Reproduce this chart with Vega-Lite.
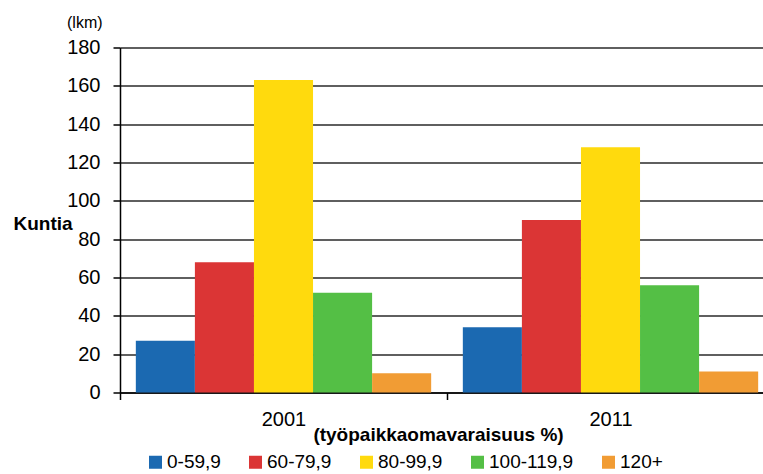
{
  "$schema": "https://vega.github.io/schema/vega-lite/v6.json",
  "width": 643,
  "height": 345,
  "autosize": "none",
  "padding": {"left": 120, "top": 47.5, "right": 0, "bottom": 81.5},
  "background": "#ffffff",
  "title": {
    "text": "(lkm)",
    "anchor": "start",
    "frame": "group",
    "dx": -53,
    "fontSize": 16,
    "fontWeight": "normal",
    "font": "Liberation Sans",
    "color": "#000000",
    "offset": 7
  },
  "data": {
    "values": [
      {"vuosi": "2001", "luokka": "0-59,9", "kuntia": 27},
      {"vuosi": "2001", "luokka": "60-79,9", "kuntia": 68},
      {"vuosi": "2001", "luokka": "80-99,9", "kuntia": 163},
      {"vuosi": "2001", "luokka": "100-119,9", "kuntia": 52},
      {"vuosi": "2001", "luokka": "120+", "kuntia": 10},
      {"vuosi": "2011", "luokka": "0-59,9", "kuntia": 34},
      {"vuosi": "2011", "luokka": "60-79,9", "kuntia": 90},
      {"vuosi": "2011", "luokka": "80-99,9", "kuntia": 128},
      {"vuosi": "2011", "luokka": "100-119,9", "kuntia": 56},
      {"vuosi": "2011", "luokka": "120+", "kuntia": 11}
    ]
  },
  "mark": {"type": "bar"},
  "encoding": {
    "x": {
      "field": "vuosi",
      "type": "nominal",
      "scale": {"paddingInner": 0, "paddingOuter": 0, "range": [0, 654]},
      "axis": {
        "title": "(työpaikkaomavaraisuus  %)",
        "titleFontWeight": "bold",
        "titleFontSize": 19,
        "titleAlign": "center",
        "titleBaseline": "top",
        "titleX": 318,
        "titleY": 33,
        "labelAngle": 0,
        "labelFontSize": 20,
        "labelPadding": 10,
        "labelColor": "#000000",
        "tickBand": "extent",
        "tickSize": 7,
        "tickColor": "#000000",
        "domainColor": "#000000",
        "domainWidth": 1.5,
        "tickWidth": 1.5
      }
    },
    "xOffset": {
      "field": "luokka",
      "type": "nominal",
      "sort": ["0-59,9", "60-79,9", "80-99,9", "100-119,9", "120+"],
      "scale": {"paddingInner": 0, "paddingOuter": 0.268}
    },
    "y": {
      "field": "kuntia",
      "type": "quantitative",
      "scale": {"domain": [0, 180], "nice": false},
      "axis": {
        "values": [0, 20, 40, 60, 80, 100, 120, 140, 160, 180],
        "title": "Kuntia",
        "titleAngle": 0,
        "titleAlign": "left",
        "titleBaseline": "middle",
        "titleX": -107,
        "titleY": 175.5,
        "titleFontWeight": "bold",
        "titleFontSize": 19,
        "labelFontSize": 20,
        "labelPadding": 13,
        "labelColor": "#000000",
        "tickSize": 7,
        "tickColor": "#000000",
        "tickWidth": 1.5,
        "domainColor": "#000000",
        "domainWidth": 1.5,
        "grid": true,
        "gridColor": "#2a2a2a",
        "gridWidth": 1.5
      }
    },
    "color": {
      "field": "luokka",
      "type": "nominal",
      "sort": ["0-59,9", "60-79,9", "80-99,9", "100-119,9", "120+"],
      "scale": {
        "domain": ["0-59,9", "60-79,9", "80-99,9", "100-119,9", "120+"],
        "range": ["#1b69b1", "#db3535", "#ffda0d", "#54bf45", "#f19c34"]
      },
      "legend": {
        "title": null,
        "orient": "none",
        "direction": "horizontal",
        "columns": 5,
        "legendX": 26,
        "legendY": 405,
        "symbolType": "square",
        "symbolSize": 169,
        "symbolStrokeWidth": 0,
        "labelFontSize": 19,
        "labelColor": "#000000",
        "labelOffset": 2,
        "columnPadding": 25
      }
    }
  },
  "config": {
    "font": "Liberation Sans",
    "view": {"stroke": null},
    "axis": {"titleColor": "#000000"}
  }
}
